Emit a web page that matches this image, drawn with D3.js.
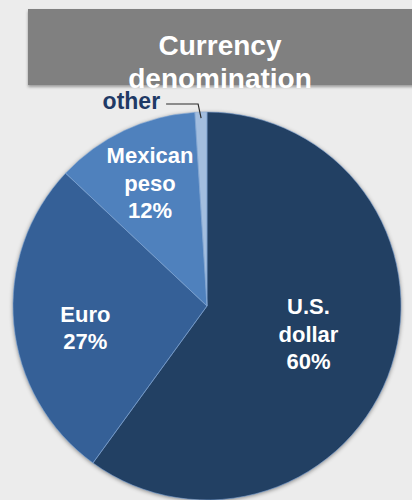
<!DOCTYPE html>
<html>
<head>
<meta charset="utf-8">
<script src="https://cdn.jsdelivr.net/npm/d3@7"></script>
<style>
  html, body { margin: 0; padding: 0; background: #ebebeb; }
  svg { display: block; }
</style>
</head>
<body>
<svg id="chart" width="412" height="500"></svg>
<script>
// ---- data ----
const categories = ["U.S. dollar", "Euro", "Mexican peso", "other"];
const values = [60, 27, 12, 1];
const labelLines = [["U.S.", "dollar", "60%"], ["Euro", "27%"], ["Mexican", "peso", "12%"], ["other"]];
const titleLines = ["Currency", "denomination"];

// ---- style/layout ----
const colors = ["#243f64", "#346097", "#4f81bd", "#a3bedf"];
const labelRadiusFactor = [0.55, 0.63, 0.69, 0];
const labelShiftY = [-5, 10, -2, 0];
const W = 412, H = 500;
const cx = 207, cy = 306, R = 194;

const svg = d3.select("#chart");

svg.append("rect").attr("width", W).attr("height", H).attr("fill", "#ececec");

const defs = svg.append("defs");
const sh = defs.append("filter").attr("id", "shadow").attr("x", "-10%").attr("y", "-10%").attr("width", "120%").attr("height", "120%");
sh.append("feDropShadow").attr("dx", 0).attr("dy", 1).attr("stdDeviation", 2).attr("flood-color", "#000").attr("flood-opacity", 0.45);
const sh2 = defs.append("filter").attr("id", "boxshadow").attr("x", "-5%").attr("y", "-10%").attr("width", "110%").attr("height", "130%");
sh2.append("feDropShadow").attr("dx", 0).attr("dy", 2).attr("stdDeviation", 1.5).attr("flood-color", "#000").attr("flood-opacity", 0.35);

// title box
svg.append("rect").attr("x", 28).attr("y", 9).attr("width", W - 28 + 10).attr("height", 76)
  .attr("fill", "#808080").attr("filter", "url(#boxshadow)");

// pie
const pie = d3.pie().sort(null).value(d => d);
const arcs = pie(values);
const arc = d3.arc().innerRadius(0).outerRadius(R);

const g = svg.append("g").attr("transform", `translate(${cx},${cy})`);
g.append("g").attr("filter", "url(#shadow)")
  .selectAll("path").data(arcs).join("path")
  .attr("d", arc)
  .attr("fill", (d, i) => colors[i]);
g.append("g").selectAll("path").data(arcs).join("path")
  .attr("d", arc)
  .attr("fill", "none")
  .attr("stroke", "#7ea3d3")
  .attr("stroke-opacity", 0.7)
  .attr("stroke-width", 0.8);

// inside labels
const lineH = 27.5;
arcs.forEach((d, i) => {
  if (labelRadiusFactor[i] === 0) return;
  const r = R * labelRadiusFactor[i];
  const la = d3.arc().innerRadius(r).outerRadius(r);
  const [x, y0] = la.centroid(d);
  const y = y0 + labelShiftY[i];
  const lines = labelLines[i];
  const t = g.append("text")
    .attr("text-anchor", "middle")
    .attr("font-family", "'Liberation Sans', Arial, sans-serif")
    .attr("font-weight", "bold")
    .attr("font-size", 22)
    .attr("fill", "#ffffff");
  lines.forEach((s, k) => {
    t.append("tspan").attr("x", x)
      .attr("y", y + (k - (lines.length - 1) / 2) * lineH + 8)
      .text(s);
  });
});

// "other" outside label with leader
const oth = arcs[3];
const midA = (oth.startAngle + oth.endAngle) / 2;
const px = Math.sin(midA) * (R - 6), py = -Math.cos(midA) * (R - 6);
const elbowY = -R - 8;
g.append("polyline")
  .attr("points", [[px, py], [px - 3, elbowY], [px - 35, elbowY]].map(p => p.join(",")).join(" "))
  .attr("fill", "none").attr("stroke", "#2b2b2b").attr("stroke-width", 1.2);
g.append("text")
  .attr("x", px - 41).attr("y", elbowY + 5)
  .attr("text-anchor", "end")
  .attr("font-family", "'Liberation Sans', Arial, sans-serif")
  .attr("font-weight", "bold")
  .attr("font-size", 23)
  .attr("fill", "#1f3a66")
  .text(labelLines[3][0]);

// title
const tt = svg.append("text")
  .attr("text-anchor", "middle")
  .attr("font-family", "'Liberation Sans', Arial, sans-serif")
  .attr("font-weight", "bold")
  .attr("font-size", 28)
  .attr("fill", "#ffffff");
titleLines.forEach((s, k) => {
  tt.append("tspan").attr("x", 220).attr("y", 55 + k * 33).text(s);
});
</script>
</body>
</html>
